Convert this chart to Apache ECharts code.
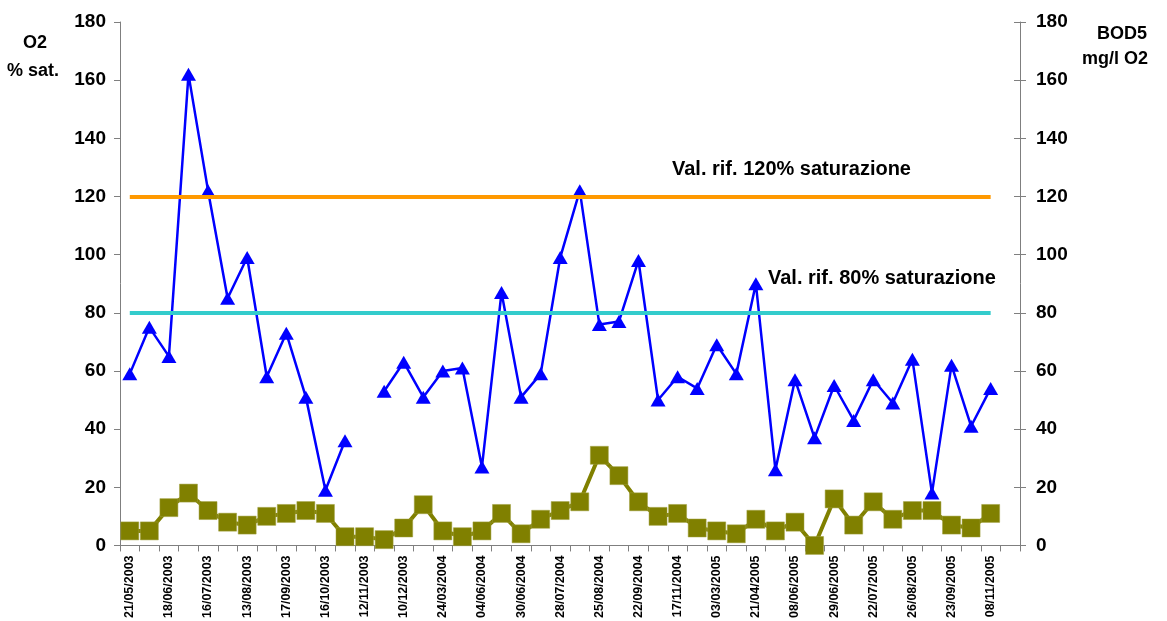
<!DOCTYPE html>
<html>
<head>
<meta charset="utf-8">
<script src="https://cdn.jsdelivr.net/npm/echarts@6/dist/echarts.min.js"></script>
<style>
html,body{margin:0;padding:0;background:#fff;}
#chart{width:1167px;height:621px;}
</style>
</head>
<body>
<div id="chart"></div>
<script>
const categories = [
  '21/05/2003','04/06/2003','18/06/2003','02/07/2003','16/07/2003','30/07/2003',
  '13/08/2003','03/09/2003','17/09/2003','01/10/2003','16/10/2003','29/10/2003',
  '12/11/2003','26/11/2003','10/12/2003','25/02/2004','24/03/2004','21/04/2004',
  '04/06/2004','16/06/2004','30/06/2004','14/07/2004','28/07/2004','11/08/2004',
  '25/08/2004','08/09/2004','22/09/2004','20/10/2004','17/11/2004','02/02/2005',
  '03/03/2005','06/04/2005','21/04/2005','18/05/2005','08/06/2005','15/06/2005',
  '29/06/2005','06/07/2005','22/07/2005','03/08/2005','26/08/2005','07/09/2005',
  '23/09/2005','13/10/2005','08/11/2005',''
];
const o2Sat = [59,75,65,162,122,85,99,58,73,51,19,36,null,53,63,51,60,61,27,87,51,59,99,122,76,77,98,50,58,54,69,59,90,26,57,37,55,43,57,49,64,18,62,41,54,null];
const bod5 = [5,5,13,18,12,8,7,10,11,12,11,3,3,2,6,14,5,3,5,11,4,9,12,15,31,24,15,10,11,6,5,4,9,5,8,0,16,7,15,9,12,12,7,6,11,null];
const refHigh = 120;
const refLow = 80;
const yTicks = {min: 0, max: 180, interval: 20};
const lastDataIndex = 44;

const FONT = 'Liberation Sans, Arial, sans-serif';
const chart = echarts.init(document.getElementById('chart'));
const axisGray = '#7f7f7f';

function refLine(name, value, color) {
  return {
    name: name, type: 'line', yAxisIndex: 0, data: [], silent: true, z: 1,
    markLine: {
      silent: true, symbol: 'none', animation: false,
      lineStyle: {color: color, width: 4, type: 'solid'},
      label: {show: false},
      data: [[{coord: [0, value]}, {coord: [lastDataIndex, value]}]]
    }
  };
}

chart.setOption({
  animation: false,
  backgroundColor: '#ffffff',
  grid: {left: 120, right: 147, top: 22, bottom: 75},
  xAxis: {
    type: 'category', data: categories, boundaryGap: true,
    axisLine: {lineStyle: {color: axisGray, width: 1}},
    axisTick: {show: true, interval: 0, length: 6, lineStyle: {color: axisGray}},
    axisLabel: {interval: 1, rotate: 90, fontFamily: FONT, fontWeight: 'bold', fontSize: 12.5, color: '#000', margin: 10}
  },
  yAxis: [
    {
      type: 'value', min: yTicks.min, max: yTicks.max, interval: yTicks.interval,
      axisLine: {show: true, lineStyle: {color: axisGray}},
      axisTick: {show: true, length: 6, lineStyle: {color: axisGray}},
      splitLine: {show: false},
      axisLabel: {fontFamily: FONT, fontWeight: 'bold', fontSize: 19, color: '#000', margin: 14}
    },
    {
      type: 'value', min: yTicks.min, max: yTicks.max, interval: yTicks.interval, position: 'right',
      axisLine: {show: true, lineStyle: {color: axisGray}},
      axisTick: {show: true, length: 6, inside: false, lineStyle: {color: axisGray}},
      splitLine: {show: false},
      axisLabel: {fontFamily: FONT, fontWeight: 'bold', fontSize: 19, color: '#000', margin: 16}
    },
    {
      type: 'value', min: yTicks.min, max: yTicks.max, interval: yTicks.interval, position: 'right',
      axisLine: {show: false},
      axisTick: {show: true, length: 6, inside: true, lineStyle: {color: axisGray}},
      splitLine: {show: false},
      axisLabel: {show: false}
    }
  ],
  series: [
    refLine('Val. rif. 120% saturazione', refHigh, '#ff9900'),
    refLine('Val. rif. 80% saturazione', refLow, '#33cccc'),
    {
      name: 'O2 % sat.', type: 'line', yAxisIndex: 0, data: o2Sat, z: 3,
      connectNulls: false, showAllSymbol: true,
      lineStyle: {color: '#0000ff', width: 2.5},
      symbol: 'triangle', symbolSize: [15, 13],
      itemStyle: {color: '#0000ff', borderWidth: 0}
    },
    {
      name: 'BOD5 mg/l O2', type: 'line', yAxisIndex: 1, data: bod5, z: 4,
      showAllSymbol: true,
      lineStyle: {color: '#808000', width: 4},
      symbol: 'rect', symbolSize: 18,
      itemStyle: {color: '#808000', borderColor: '#a0a040', borderWidth: 0.5}
    }
  ],
  graphic: [
    {type: 'text', left: 672, top: 159, style: {text: 'Val. rif. 120% saturazione', font: 'bold 20px ' + FONT, fill: '#000'}},
    {type: 'text', left: 768, top: 268, style: {text: 'Val. rif. 80% saturazione', font: 'bold 20px ' + FONT, fill: '#000'}},
    {type: 'text', left: 23, top: 34, style: {text: 'O2', font: 'bold 18px ' + FONT, fill: '#000'}},
    {type: 'text', left: 7, top: 62, style: {text: '% sat.', font: 'bold 18px ' + FONT, fill: '#000'}},
    {type: 'text', left: 1097, top: 25, style: {text: 'BOD5', font: 'bold 18px ' + FONT, fill: '#000'}},
    {type: 'text', left: 1082, top: 50, style: {text: 'mg/l O2', font: 'bold 18px ' + FONT, fill: '#000'}}
  ]
});
</script>
</body>
</html>
